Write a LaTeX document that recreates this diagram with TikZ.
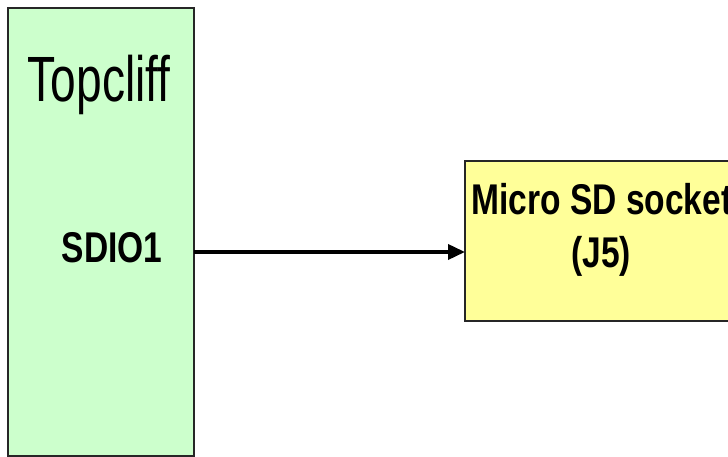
\documentclass[tikz,border=0pt]{standalone}
\usepackage{fontspec}
\newfontfamily\narrowfont[FakeStretch=0.78]{Liberation Sans}
\newfontfamily\slimfont[FakeStretch=0.72]{Liberation Sans}
\usetikzlibrary{arrows.meta}
\definecolor{chipgreen}{HTML}{CCFFCC}
\definecolor{sockyellow}{HTML}{FFFF99}
\tikzset{
  blockbox/.style={draw=black!85, line width=2.4pt},
  bigtxt/.style={font=\slimfont\fontsize{64}{76}\selectfont, inner sep=0pt},
  boldtxt/.style={font=\narrowfont\bfseries\fontsize{43}{53}\selectfont, inner sep=0pt}
}
\begin{document}
\begin{tikzpicture}[x=1pt,y=1pt]
\useasboundingbox (0,0) rectangle (728,457);
\draw [blockbox, fill=chipgreen] (8,1) rectangle (194,449);
\coordinate (topcliff) at (194,205);
\draw [blockbox, fill=sockyellow] (465,136) rectangle (737,296);
\coordinate (socket) at (465,205);
\node [bigtxt, anchor=base] (chipname) at (99,355) {Topcliff};
\node [boldtxt, anchor=base] (sdio) at (112,194) {SDIO1};
\node [boldtxt, anchor=base] (socketname) at (602,242) {Micro SD socket};
\node [boldtxt, anchor=base] (jfive) at (601,189) {(J5)};
\draw [line width=3.6pt, -{Triangle[length=17pt,width=15pt]}] (topcliff)--(socket);
\end{tikzpicture}
\end{document}
